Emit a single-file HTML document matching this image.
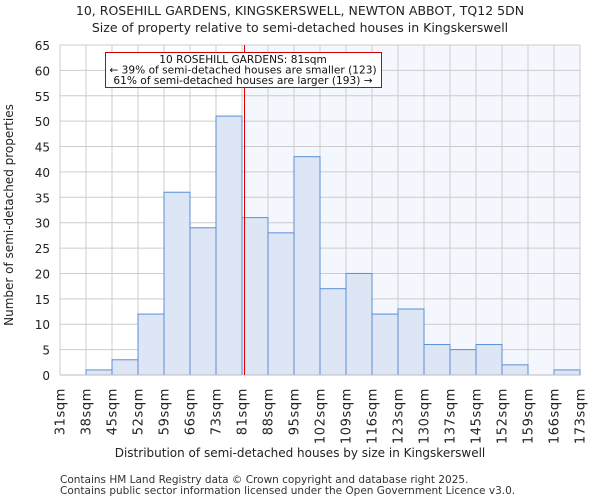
<!DOCTYPE html>
<html><head><meta charset="utf-8"><style>
body{margin:0;background:#fff;font-family:"DejaVu Sans","Liberation Sans",sans-serif;}
</style></head><body>
<svg width="600" height="500" xmlns="http://www.w3.org/2000/svg" font-family="DejaVu Sans, Liberation Sans, sans-serif">
<text x="300" y="15" text-anchor="middle" font-size="12.5" fill="#222">10, ROSEHILL GARDENS, KINGSKERSWELL, NEWTON ABBOT, TQ12 5DN</text>
<text x="300" y="32" text-anchor="middle" font-size="12.5" fill="#222">Size of property relative to semi-detached houses in Kingskerswell</text>
<g id="plot"></g>
<text x="300" y="457" text-anchor="middle" font-size="12" fill="#222">Distribution of semi-detached houses by size in Kingskerswell</text>
<text transform="translate(13,215) rotate(-90)" text-anchor="middle" font-size="12" fill="#222">Number of semi-detached properties</text>
<text x="60" y="483" font-size="10.5" fill="#333">Contains HM Land Registry data © Crown copyright and database right 2025.</text>
<text x="60" y="494" font-size="10.5" fill="#333">Contains public sector information licensed under the Open Government Licence v3.0.</text>
</svg>
<script>
const categories=["31sqm","38sqm","45sqm","52sqm","59sqm","66sqm","73sqm","81sqm","88sqm","95sqm","102sqm","109sqm","116sqm","123sqm","130sqm","137sqm","145sqm","152sqm","159sqm","166sqm","173sqm"];
const counts=[0,1,3,12,36,29,51,31,28,43,17,20,12,13,6,5,6,2,0,1];
const yTicks=[0,5,10,15,20,25,30,35,40,45,50,55,60,65];
const markerIndex=7.06;
const NS="http://www.w3.org/2000/svg";
const g=document.getElementById('plot');
const L=60,R=580,T=45,B=375,yMax=65;
const bw=(R-L)/counts.length;
const x=i=>L+i*bw;
const y=v=>B-(v/yMax)*(B-T);
function mk(t,a){const e=document.createElementNS(NS,t);for(const k in a)e.setAttribute(k,a[k]);g.appendChild(e);return e;}
const mx=Math.round(x(markerIndex))+0.5;
let sh=mk('rect',{x:mx,y:T,width:R-mx,height:B-T,fill:'#f4f7fd'});


yTicks.forEach(v=>{
 let l=mk('line',{x1:L,x2:R,y1:y(v),y2:y(v),stroke:'#cccccc','stroke-width':1});
 
 
 let t=mk('text',{x:L-10,y:y(v)+5,'text-anchor':'end','font-size':12,fill:'#222'});
 t.textContent=v;
 
 
});
categories.forEach((c,i)=>{
 let l=mk('line',{x1:x(i),x2:x(i),y1:T,y2:B,stroke:'#cccccc','stroke-width':1});
 
 
 let t=mk('text',{transform:`translate(${x(i)+4.5},${B+13}) rotate(-90)`,'text-anchor':'end','font-size':13,'letter-spacing':0.6,fill:'#222'});
 t.textContent=c;
 
 
});
counts.forEach((v,i)=>{
 if(v<=0)return;
 let r=mk('rect',{x:x(i),y:y(v),width:bw,height:B-y(v),fill:'#dde6f4',stroke:'#5b8fd6','stroke-width':1});
 
 
});
let ax=mk('line',{x1:L,x2:R,y1:B,y2:B,stroke:'#bbb'});


let ml=mk('line',{x1:mx,x2:mx,y1:T,y2:B,stroke:'#dd0000','stroke-width':1});


let box=mk('rect',{x:105.5,y:52.5,width:276,height:35,fill:'#fff',stroke:'#cc0000','stroke-width':1});


["10 ROSEHILL GARDENS: 81sqm","← 39% of semi-detached houses are smaller (123)","61% of semi-detached houses are larger (193) →"].forEach((s,i)=>{
 let t=mk('text',{x:243,y:63+i*10.5,'text-anchor':'middle','font-size':10.6,fill:'#111'});
 t.textContent=s;
 
 
});
</script>
</body></html>
